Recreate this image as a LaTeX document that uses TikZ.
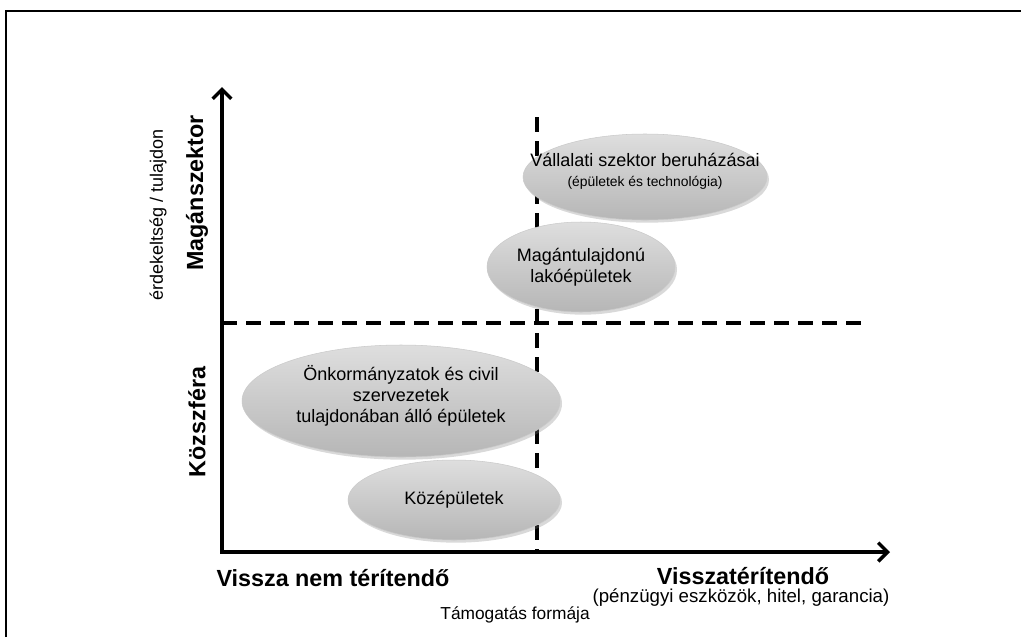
\documentclass[tikz,border=0pt]{standalone}
\usepackage{fontspec}
\setmainfont{Liberation Sans}
\usepackage{tikz}
\usetikzlibrary{shadows}
\usepackage{xcolor}
\usetikzlibrary{shapes.geometric,shapes.misc}
\usetikzlibrary{arrows.meta,positioning,calc}
\definecolor{EllipseTop}{HTML}{DEDEDE}
\definecolor{EllipseBottom}{HTML}{B6B6B6}
\definecolor{EllipseBorder}{HTML}{CACACA}
\tikzstyle{SupportEllipse} =[ellipse,draw=EllipseBorder,thin,top color=EllipseTop,bottom color=EllipseBottom,drop shadow={shadow xshift=1.5pt,shadow yshift=-2pt,opacity=0.3},inner sep=0pt]
\tikzstyle{EllipseText} =[align=center,inner sep=0pt,font=\fontsize{13.5}{16}\selectfont]
\tikzstyle{AxisLabel} =[font=\fontsize{17.5}{20}\selectfont\bfseries,inner sep=0pt]
\tikzstyle{PlainLabel} =[font=\fontsize{13.5}{16}\selectfont,inner sep=0pt]
\tikzstyle{SmallLabel} =[font=\fontsize{13}{15}\selectfont,inner sep=0pt]
\tikzstyle{BorderLine} =[line width=1.6pt]
\tikzstyle{DividerLine} =[line width=2.3pt,dash pattern=on 11pt off 7pt]
\tikzstyle{AxisLine} =[line width=2.6pt,{Straight Barb[length=7pt,width=14pt]}-{Straight Barb[length=7pt,width=14pt]}]

\begin{document}
\begin{tikzpicture}[x=0.75pt,y=-0.75pt]
    \useasboundingbox (0,0) rectangle (1021,637);

    % frame of the slide
    \coordinate (Frame-Bottom) at (6,637);
    \coordinate (Frame-Corner) at (6,11);
    \coordinate (Frame-Right) at (1021,11);
    \draw[BorderLine] (Frame-Bottom) -- (Frame-Corner) -- (Frame-Right);

    % axes
    \coordinate (Origin) at (222,552);
    \coordinate (Y-Tip) at (222,87);
    \coordinate (X-Tip) at (890,552);

    % dividers
    \coordinate (Divider-H-Start) at (222,323);
    \coordinate (Divider-H-End) at (866,323);
    \coordinate (Divider-V-Start) at (537,117);
    \coordinate (Divider-V-End) at (537,552);
    \draw[DividerLine] (Divider-H-Start) -- (Divider-H-End);
    \draw[DividerLine] (Divider-V-Start) -- (Divider-V-End);

    \node[SupportEllipse,minimum width=183pt,minimum height=64.5pt] (Corporate-Investments) at (645,177) {};
    \node[EllipseText] (Corporate-Investments-Text) at ([yshift=4pt]Corporate-Investments.center)
        {Vállalati szektor beruházásai\\[-1pt] {\fontsize{10.4}{12}\selectfont (épületek és technológia)}};
    \node[SupportEllipse,minimum width=141pt,minimum height=67.5pt] (Private-Housing) at (581,267) {};
    \node[EllipseText] (Private-Housing-Text) at (Private-Housing.center) {Magántulajdonú\\ lakóépületek};
    \node[SupportEllipse,minimum width=238.5pt,minimum height=84pt] (Municipal-Buildings) at (401,401) {};
    \node[EllipseText] (Municipal-Buildings-Text) at ([yshift=4pt]Municipal-Buildings.center)
        {Önkormányzatok és civil\\ szervezetek\\ tulajdonában álló épületek};
    \node[SupportEllipse,minimum width=159pt,minimum height=60pt] (Public-Buildings) at (454,500) {};
    \node[EllipseText] (Public-Buildings-Text) at (Public-Buildings.center) {Középületek};

    \draw[AxisLine] (Y-Tip) -- (Origin) -- (X-Tip);

    % axis labels
    \node[AxisLabel,rotate=90] (Private-Sector) at (197,193) {Magánszektor};
    \node[AxisLabel,rotate=90] (Public-Sector) at (197,422) {Közszféra};
    \node[PlainLabel,rotate=90] (Ownership-Title) at (158,215) {érdekeltség / tulajdon};
    \node[AxisLabel] (Non-Refundable) at (333,578) {Vissza nem térítendő};
    \node[AxisLabel] (Refundable) at (743,576) {Visszatérítendő};
    \node[PlainLabel,font=\fontsize{14}{16}\selectfont] (Refundable-Detail) at (741,598) {(pénzügyi eszközök, hitel, garancia)};
    \node[SmallLabel,anchor=east] (Support-Form) at (590,615) {Támogatás formája};
\end{tikzpicture}
\end{document}
